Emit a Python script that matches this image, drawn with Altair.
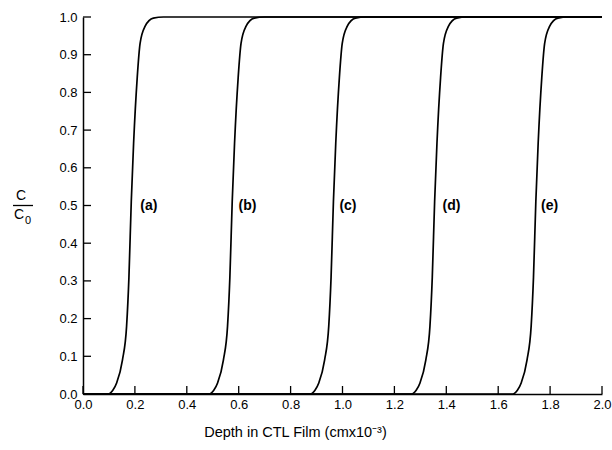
import altair as alt
import pandas as pd

curve_names = ["a", "b", "c", "d", "e"]
y_levels = [0.0, 0.0, 0.01, 0.03, 0.09, 0.18, 0.31, 0.51, 0.665, 0.84, 0.93, 0.975, 0.997, 1.0, 1.0]
x_a = [0.0, 0.097, 0.115, 0.130, 0.152, 0.168, 0.177, 0.186, 0.195, 0.209, 0.220, 0.239, 0.271, 0.310, 2.0]
x_b = [0.0, 0.486, 0.504, 0.519, 0.541, 0.557, 0.566, 0.575, 0.584, 0.598, 0.609, 0.628, 0.660, 0.699, 2.0]
x_c = [0.0, 0.876, 0.894, 0.909, 0.931, 0.947, 0.956, 0.965, 0.974, 0.988, 0.999, 1.018, 1.050, 1.089, 2.0]
x_d = [0.0, 1.266, 1.284, 1.299, 1.321, 1.337, 1.346, 1.355, 1.364, 1.378, 1.389, 1.408, 1.440, 1.479, 2.0]
x_e = [0.0, 1.656, 1.674, 1.689, 1.711, 1.727, 1.736, 1.745, 1.754, 1.768, 1.779, 1.798, 1.830, 1.869, 2.0]

label_text = ["(a)", "(b)", "(c)", "(d)", "(e)"]
label_x = [0.254, 0.634, 1.021, 1.420, 1.798]
label_y = [0.5, 0.5, 0.5, 0.5, 0.5]

x_ticks = [0.0, 0.2, 0.4, 0.6, 0.8, 1.0, 1.2, 1.4, 1.6, 1.8, 2.0]
y_ticks = [0.0, 0.1, 0.2, 0.3, 0.4, 0.5, 0.6, 0.7, 0.8, 0.9, 1.0]

rows = []
for name, xs in zip(curve_names, [x_a, x_b, x_c, x_d, x_e]):
    for i, (xv, yv) in enumerate(zip(xs, y_levels)):
        rows.append({"curve": name, "x": xv, "y": yv, "i": i})
df = pd.DataFrame(rows)
labels = pd.DataFrame({"t": label_text, "x": label_x, "y": label_y})
xt = pd.DataFrame({"x": x_ticks})
yt = pd.DataFrame({"y": y_ticks})

FONT = "Liberation Sans"
W, H = 519, 377

xscale = alt.Scale(domain=[0, 2], nice=False, zero=False)
yscale = alt.Scale(domain=[0, 1], nice=False, zero=False)

xaxis = alt.Axis(values=x_ticks, format=".1f", tickSize=0, grid=False,
                 domainColor="black", domainWidth=1.5, labelFont=FONT,
                 labelFontSize=13, labelColor="black", labelPadding=4,
                 labelOverlap=False,
                 title="Depth in CTL Film (cmx10⁻³)", titleFont=FONT,
                 titleFontSize=14.5, titleFontWeight="normal", titleColor="black",
                 titleX=212, titleY=38, titleAlign="center", titleBaseline="middle",
                 labelFlush=False)
yaxis = alt.Axis(values=y_ticks, format=".1f", tickSize=0, grid=False,
                 domainColor="black", domainWidth=1.5, labelFont=FONT,
                 labelFontSize=13, labelColor="black", labelPadding=6,
                 labelOverlap=False,
                 title=None, labelFlush=False)

lines = alt.Chart(df).mark_line(color="black", strokeWidth=1.7, interpolate="monotone").encode(
    x=alt.X("x:Q", scale=xscale, axis=xaxis),
    y=alt.Y("y:Q", scale=yscale, axis=yaxis),
    detail="curve:N",
    order="i:Q",
)

text = alt.Chart(labels).mark_text(font=FONT, fontSize=14, fontWeight="bold",
                                   color="black", align="center", baseline="middle").encode(
    x=alt.X("x:Q", scale=xscale, axis=xaxis),
    y=alt.Y("y:Q", scale=yscale, axis=yaxis),
    text="t:N",
)

xtick_marks = alt.Chart(xt).mark_rule(color="black", strokeWidth=1.3).encode(
    x=alt.X("x:Q", scale=xscale, axis=xaxis),
    y=alt.value(H),
    y2=alt.value(H - 8),
)
ytick_marks = alt.Chart(yt).mark_rule(color="black", strokeWidth=1.3).encode(
    y=alt.Y("y:Q", scale=yscale, axis=yaxis),
    x=alt.value(0),
    x2=alt.value(8),
)

# y-axis title as a stacked fraction C / C0
frac_df = pd.DataFrame({"t": ["C"]})
num = alt.Chart(frac_df).mark_text(font=FONT, fontSize=14, color="black",
                                   align="center", baseline="alphabetic").encode(
    x=alt.value(-62), y=alt.value(183), text="t:N")
den = alt.Chart(frac_df).mark_text(font=FONT, fontSize=14, color="black",
                                   align="center", baseline="alphabetic").encode(
    x=alt.value(-64), y=alt.value(202), text="t:N")
sub = alt.Chart(pd.DataFrame({"t": ["0"]})).mark_text(font=FONT, fontSize=11, color="black",
                                   align="center", baseline="alphabetic").encode(
    x=alt.value(-55), y=alt.value(207), text="t:N")
bar = alt.Chart(frac_df).mark_rule(color="black", strokeWidth=1.3).encode(
    x=alt.value(-70), x2=alt.value(-50), y=alt.value(188.5))

chart = alt.layer(lines, text, xtick_marks, ytick_marks, num, den, sub, bar).properties(
    width=W, height=H,
    padding={"left": 83, "top": 17, "right": 10, "bottom": 56},
    autosize=alt.AutoSizeParams(type="none"),
    background="white",
).configure_view(stroke=None)

chart.save("out.html", embed_options={"renderer": "svg", "actions": False})
